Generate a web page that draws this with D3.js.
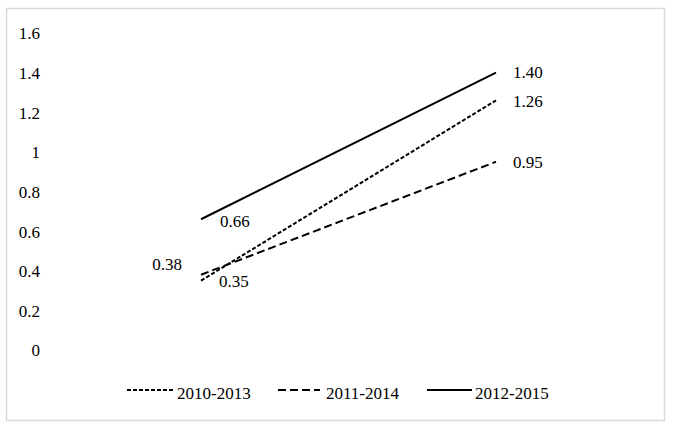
<!DOCTYPE html>
<html>
<head>
<meta charset="utf-8">
<script src="https://cdn.jsdelivr.net/npm/d3@7"></script>
<style>
  html, body { margin: 0; padding: 0; background: #fff; }
  svg { display: block; }
  text { font-family: "Liberation Serif", "Times New Roman", serif; font-size: 17px; fill: #000; }
</style>
</head>
<body>
<svg id="chart" width="674" height="427"></svg>
<script>
// ---- data ----
const categories = ["Start", "End"];
const seriesNames = ["2010-2013", "2011-2014", "2012-2015"];
const values2010_2013 = [0.35, 1.26];
const values2011_2014 = [0.38, 0.95];
const values2012_2015 = [0.66, 1.40];
const yTicks = [0, 0.2, 0.4, 0.6, 0.8, 1, 1.2, 1.4, 1.6];
const yTickLabels = ["0", "0.2", "0.4", "0.6", "0.8", "1", "1.2", "1.4", "1.6"];

const series = [
  { name: seriesNames[0], values: values2010_2013, dash: "4,2",
    labelOff: [{ dx: 18, dy: 0, anchor: "start" }, { dx: 17, dy: 0.5, anchor: "start" }] },
  { name: seriesNames[1], values: values2011_2014, dash: "8,4",
    labelOff: [{ dx: -19, dy: -11, anchor: "end" }, { dx: 17, dy: 0, anchor: "start" }] },
  { name: seriesNames[2], values: values2012_2015, dash: null,
    labelOff: [{ dx: 19, dy: 2, anchor: "start" }, { dx: 17, dy: -1, anchor: "start" }] }
];

const svg = d3.select("#chart");

// outer border
svg.append("rect")
  .attr("x", 6.5).attr("y", 8.5)
  .attr("width", 658).attr("height", 412)
  .attr("fill", "none")
  .attr("stroke", "#d9d9d9")
  .attr("stroke-width", 1.5);

const x = d3.scalePoint().domain(categories).range([53.5, 643.5]).padding(0.5);
const y = d3.scaleLinear().domain([0, 1.6]).range([350, 33]);

// y axis labels (no line, no ticks)
const yAxis = d3.axisLeft(y)
  .tickValues(yTicks)
  .tickFormat((d, i) => yTickLabels[i])
  .tickSize(0)
  .tickPadding(0);
const gy = svg.append("g").attr("transform", "translate(40,0)").call(yAxis);
gy.select(".domain").remove();
gy.selectAll("text")
  .attr("font-family", null).attr("font-size", null)
  .attr("dy", "0.35em");

// lines
const line = d3.line()
  .x((d, i) => x(categories[i]))
  .y(d => y(d));

series.forEach(s => {
  svg.append("path")
    .datum(s.values)
    .attr("d", line)
    .attr("fill", "none")
    .attr("stroke", "#000")
    .attr("stroke-width", 2)
    .attr("stroke-dasharray", s.dash);
});

// data labels
series.forEach(s => {
  s.values.forEach((v, i) => {
    const o = s.labelOff[i];
    svg.append("text")
      .attr("x", x(categories[i]) + o.dx)
      .attr("y", y(v) + o.dy)
      .attr("dy", "0.35em")
      .attr("text-anchor", o.anchor)
      .text(v.toFixed(2));
  });
});

// legend
const legendItems = [
  { x0: 127, x1: 173, tx: 177 },
  { x0: 278, x1: 320, tx: 326 },
  { x0: 427, x1: 472, tx: 475 }
];
series.forEach((s, i) => {
  const li = legendItems[i];
  svg.append("line")
    .attr("x1", li.x0).attr("x2", li.x1)
    .attr("y1", 390).attr("y2", 390)
    .attr("stroke", "#000")
    .attr("stroke-width", 2)
    .attr("stroke-dasharray", s.dash);
  svg.append("text")
    .attr("x", li.tx)
    .attr("y", 399)
    .text(s.name);
});
</script>
</body>
</html>
